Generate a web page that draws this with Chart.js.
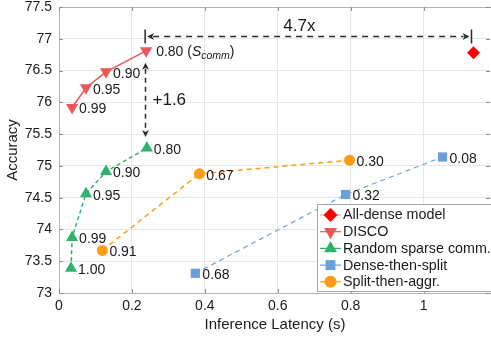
<!DOCTYPE html>
<html><head><meta charset="utf-8">
<script src="https://cdn.jsdelivr.net/npm/chart.js@4/dist/chart.umd.min.js"></script>
<style>html,body{margin:0;padding:0;background:#fff;overflow:hidden}</style>
</head><body><canvas id="c" width="491" height="339"></canvas>
<script>
// ---- data ----
const xTicks = [0, 0.2, 0.4, 0.6, 0.8, 1];
const yTicks = [73, 73.5, 74, 74.5, 75, 75.5, 76, 76.5, 77, 77.5];
const seriesNames = ['All-dense model', 'DISCO', 'Random sparse comm.', 'Dense-then-split', 'Split-then-aggr.'];

const allDenseX = [1.137];
const allDenseY = [76.78];

const discoX = [0.036, 0.074, 0.129, 0.239];
const discoY = [75.92, 76.23, 76.48, 76.81];
const discoLabels = ['0.99', '0.95', '0.90', '0.80'];

const randomX = [0.033, 0.036, 0.074, 0.129, 0.241];
const randomY = [73.39, 73.875, 74.56, 74.91, 75.28];
const randomLabels = ['1.00', '0.99', '0.95', '0.90', '0.80'];

const denseSplitX = [0.374, 0.786, 1.052];
const denseSplitY = [73.31, 74.55, 75.14];
const denseSplitLabels = ['0.68', '0.32', '0.08'];

const splitAggX = [0.119, 0.385, 0.797];
const splitAggY = [73.67, 74.875, 75.09];
const splitAggLabels = ['0.91', '0.67', '0.30'];

const gainText = '+1.6';
const speedText = '4.7x';
const xTitle = 'Inference Latency (s)';
const yTitle = 'Accuracy';

// ---- build ----
const pts = (xs, ys) => xs.map((x, i) => ({x, y: ys[i]}));
const FONT = '"Liberation Sans", Arial, Helvetica, sans-serif';
const TXT = '#1a1a1a';

const datasets = [
  {label: seriesNames[0], data: pts(allDenseX, allDenseY), showLine: false,
   pointStyle: 'rectRot', pointRadius: 6.5, backgroundColor: '#ff0000', borderColor: '#ff0000', borderWidth: 0,
   legendLine: '#f4a0a0', labels: []},
  {label: seriesNames[1], data: pts(discoX, discoY), showLine: true,
   pointStyle: 'triangle', rotation: 180, pointRadius: 7, backgroundColor: '#e85858', borderColor: '#e85858',
   pointBorderWidth: 0, borderWidth: 1.6, legendLine: '#e85858', labels: discoLabels},
  {label: seriesNames[2], data: pts(randomX, randomY), showLine: true, borderDash: [4, 3],
   pointStyle: 'triangle', pointRadius: 7, backgroundColor: '#2fb36c', borderColor: '#2fb36c',
   pointBorderWidth: 0, borderWidth: 1.5, legendLine: '#2fb36c', labels: randomLabels},
  {label: seriesNames[3], data: pts(denseSplitX, denseSplitY), showLine: true, borderDash: [5, 4],
   pointStyle: 'rect', pointRadius: 6.5, backgroundColor: '#6b9fd8', borderColor: '#6b9fd8',
   pointBorderWidth: 0, borderWidth: 1.2, legendLine: '#6b9fd8', labels: denseSplitLabels},
  {label: seriesNames[4], data: pts(splitAggX, splitAggY), showLine: true, borderDash: [5, 4],
   pointStyle: 'circle', pointRadius: 5.5, backgroundColor: '#ff9c12', borderColor: '#ff9c12',
   pointBorderWidth: 0, borderWidth: 1.5, legendLine: '#ff9c12', labels: splitAggLabels}
];

function arrowHead(ctx, x, y, ang) {
  ctx.save();
  ctx.translate(x, y); ctx.rotate(ang);
  ctx.beginPath();
  ctx.moveTo(0, 0); ctx.lineTo(-7, -3.5); ctx.lineTo(-5, 0); ctx.lineTo(-7, 3.5);
  ctx.closePath(); ctx.fill();
  ctx.restore();
}

const CANVAS_W = 491;

const decor = {
  id: 'decor',
  afterLayout(chart) {
    // let the plot box run to the right edge of the canvas, like the reference
    const x = chart.scales.x, a = chart.chartArea;
    a.right = CANVAS_W; a.width = a.right - a.left;
    x.right = CANVAS_W; x.width = x.right - x.left;
    x.configure();
  },
  beforeDatasetsDraw(chart) {
    const {ctx, chartArea: a, scales: {x, y}} = chart;
    ctx.save();
    ctx.strokeStyle = '#b3b3b3'; ctx.lineWidth = 1;
    ctx.beginPath();
    ctx.moveTo(a.left, Math.round(a.top) + 0.5); ctx.lineTo(a.right, Math.round(a.top) + 0.5);
    ctx.stroke();
    ctx.strokeStyle = '#8c8c8c';
    ctx.beginPath();
    xTicks.forEach(v => { const px = Math.round(x.getPixelForValue(v)) + 0.5;
      ctx.moveTo(px, a.bottom); ctx.lineTo(px, a.bottom - 4);
      ctx.moveTo(px, a.top); ctx.lineTo(px, a.top + 4); });
    yTicks.forEach(v => { const py = Math.round(y.getPixelForValue(v)) + 0.5;
      ctx.moveTo(a.left, py); ctx.lineTo(a.left + 4, py);
      ctx.moveTo(a.right - 1, py); ctx.lineTo(a.right - 5, py); });
    ctx.stroke();
    ctx.restore();
  },
  afterDatasetsDraw(chart) {
    const {ctx, scales: {x, y}} = chart;
    ctx.save();
    ctx.fillStyle = TXT; ctx.textBaseline = 'middle'; ctx.textAlign = 'left';
    chart.data.datasets.forEach((ds, di) => {
      const meta = chart.getDatasetMeta(di);
      ds.labels.forEach((t, i) => {
        const el = meta.data[i];
        if (di === 1 && i === discoLabels.length - 1) {
          let cx = el.x + 10, cy = el.y + 1;
          const s1 = t + ' (';
          ctx.font = '14px ' + FONT; ctx.fillText(s1, cx, cy); cx += ctx.measureText(s1).width;
          ctx.font = 'italic 14px ' + FONT; ctx.fillText('S', cx, cy); cx += ctx.measureText('S').width;
          ctx.font = 'italic 10.5px ' + FONT; ctx.fillText('comm', cx, cy + 4); cx += ctx.measureText('comm').width;
          ctx.font = '14px ' + FONT; ctx.fillText(')', cx, cy);
        } else {
          ctx.font = '14px ' + FONT;
          ctx.fillText(t, el.x + 7, el.y + 2);
        }
      });
    });
    // horizontal arrow (latency ratio)
    const ya = Math.round(y.getPixelForValue(77.05)) + 0.5;
    const x1 = x.getPixelForValue(discoX[discoX.length - 1]) - 1;
    const x2 = x.getPixelForValue(allDenseX[0]) - 2;
    ctx.strokeStyle = '#2b2b2b'; ctx.fillStyle = '#2b2b2b'; ctx.lineWidth = 1.5;
    ctx.setLineDash([6, 5]);
    ctx.beginPath(); ctx.moveTo(x1 + 8, ya); ctx.lineTo(x2 - 8, ya); ctx.stroke();
    ctx.setLineDash([]);
    ctx.beginPath();
    ctx.moveTo(x1, ya - 7); ctx.lineTo(x1, ya + 7);
    ctx.moveTo(x2, ya - 7); ctx.lineTo(x2, ya + 7);
    ctx.stroke();
    arrowHead(ctx, x1 + 2, ya, Math.PI);
    arrowHead(ctx, x2 - 2, ya, 0);
    // vertical arrow (accuracy gain)
    const xv = Math.round(x1) + 0.5;
    const yTop = y.getPixelForValue(discoY[discoY.length - 1]) + 12;
    const yBot = y.getPixelForValue(randomY[randomY.length - 1]) - 11;
    ctx.setLineDash([5, 4]);
    ctx.beginPath(); ctx.moveTo(xv, yTop + 6); ctx.lineTo(xv, yBot - 6); ctx.stroke();
    ctx.setLineDash([]);
    arrowHead(ctx, xv, yTop, -Math.PI / 2);
    arrowHead(ctx, xv, yBot, Math.PI / 2);
    ctx.fillStyle = TXT; ctx.textBaseline = 'middle';
    ctx.font = '17px ' + FONT; ctx.textAlign = 'left';
    ctx.fillText(gainText, xv + 7, (yTop + yBot) / 2);
    ctx.textAlign = 'center';
    ctx.fillText(speedText, (x1 + x2) / 2 - 9, ya - 10);
    ctx.restore();
  },
  afterDraw(chart) {
    const {ctx, chartArea: a} = chart;
    ctx.save();
    ctx.fillStyle = TXT; ctx.font = '15px ' + FONT; ctx.textAlign = 'center'; ctx.textBaseline = 'middle';
    ctx.fillText(xTitle, (a.left + a.right) / 2, 325);
    ctx.translate(13, (a.top + a.bottom) / 2); ctx.rotate(-Math.PI / 2);
    ctx.fillText(yTitle, 0, 0);
    ctx.restore();
    // legend
    ctx.save();
    const lx = 317.5, ly = 204.5, lw = 180, lh = 87;
    ctx.fillStyle = '#fff'; ctx.fillRect(lx, ly, lw, lh);
    ctx.strokeStyle = '#a6a6a6'; ctx.lineWidth = 1; ctx.strokeRect(lx, ly, lw, lh);
    const rowH = 16.7;
    chart.data.datasets.forEach((ds, i) => {
      const cy = 215 + i * rowH;
      ctx.strokeStyle = ds.legendLine; ctx.lineWidth = 1.2;
      ctx.beginPath(); ctx.moveTo(320, cy); ctx.lineTo(341, cy); ctx.stroke();
      ctx.fillStyle = ds.backgroundColor;
      Chart.helpers.drawPoint(ctx, {pointStyle: ds.pointStyle, rotation: ds.rotation || 0,
        radius: ds.pointRadius + 0.5, borderWidth: 0}, 330.5, cy);
      ctx.fillStyle = TXT; ctx.font = '14.3px ' + FONT; ctx.textAlign = 'left'; ctx.textBaseline = 'middle';
      ctx.fillText(ds.label, 343, cy + 0.5);
    });
    ctx.restore();
  }
};

new Chart(document.getElementById('c'), {
  type: 'scatter',
  data: {datasets},
  options: {
    responsive: false, animation: false, devicePixelRatio: 1,
    layout: {padding: {top: 7, right: 0, left: 0, bottom: 0}},
    plugins: {legend: {display: false}, tooltip: {enabled: false}},
    scales: {
      x: {type: 'linear', min: 0, max: 1.185,
        afterFit(s) { s.height = 46; s.paddingLeft = 0; s.paddingRight = 0; },
        afterBuildTicks(s) { s.ticks = xTicks.map(v => ({value: v})); },
        ticks: {padding: 5, color: TXT, font: {size: 14, family: FONT}, callback: v => String(v)},
        grid: {color: '#e6e6e6', drawTicks: false},
        border: {color: '#b3b3b3'}},
      y: {type: 'linear', min: 73, max: 77.5,
        afterFit(s) { s.width = 59; s.paddingTop = 0; s.paddingBottom = 0; },
        afterBuildTicks(s) { s.ticks = yTicks.map(v => ({value: v})); },
        ticks: {padding: 7, color: TXT, font: {size: 14, family: FONT}, callback: v => String(v)},
        grid: {color: '#e6e6e6', drawTicks: false},
        border: {color: '#b3b3b3'}}
    }
  },
  plugins: [decor]
});
</script></body></html>
